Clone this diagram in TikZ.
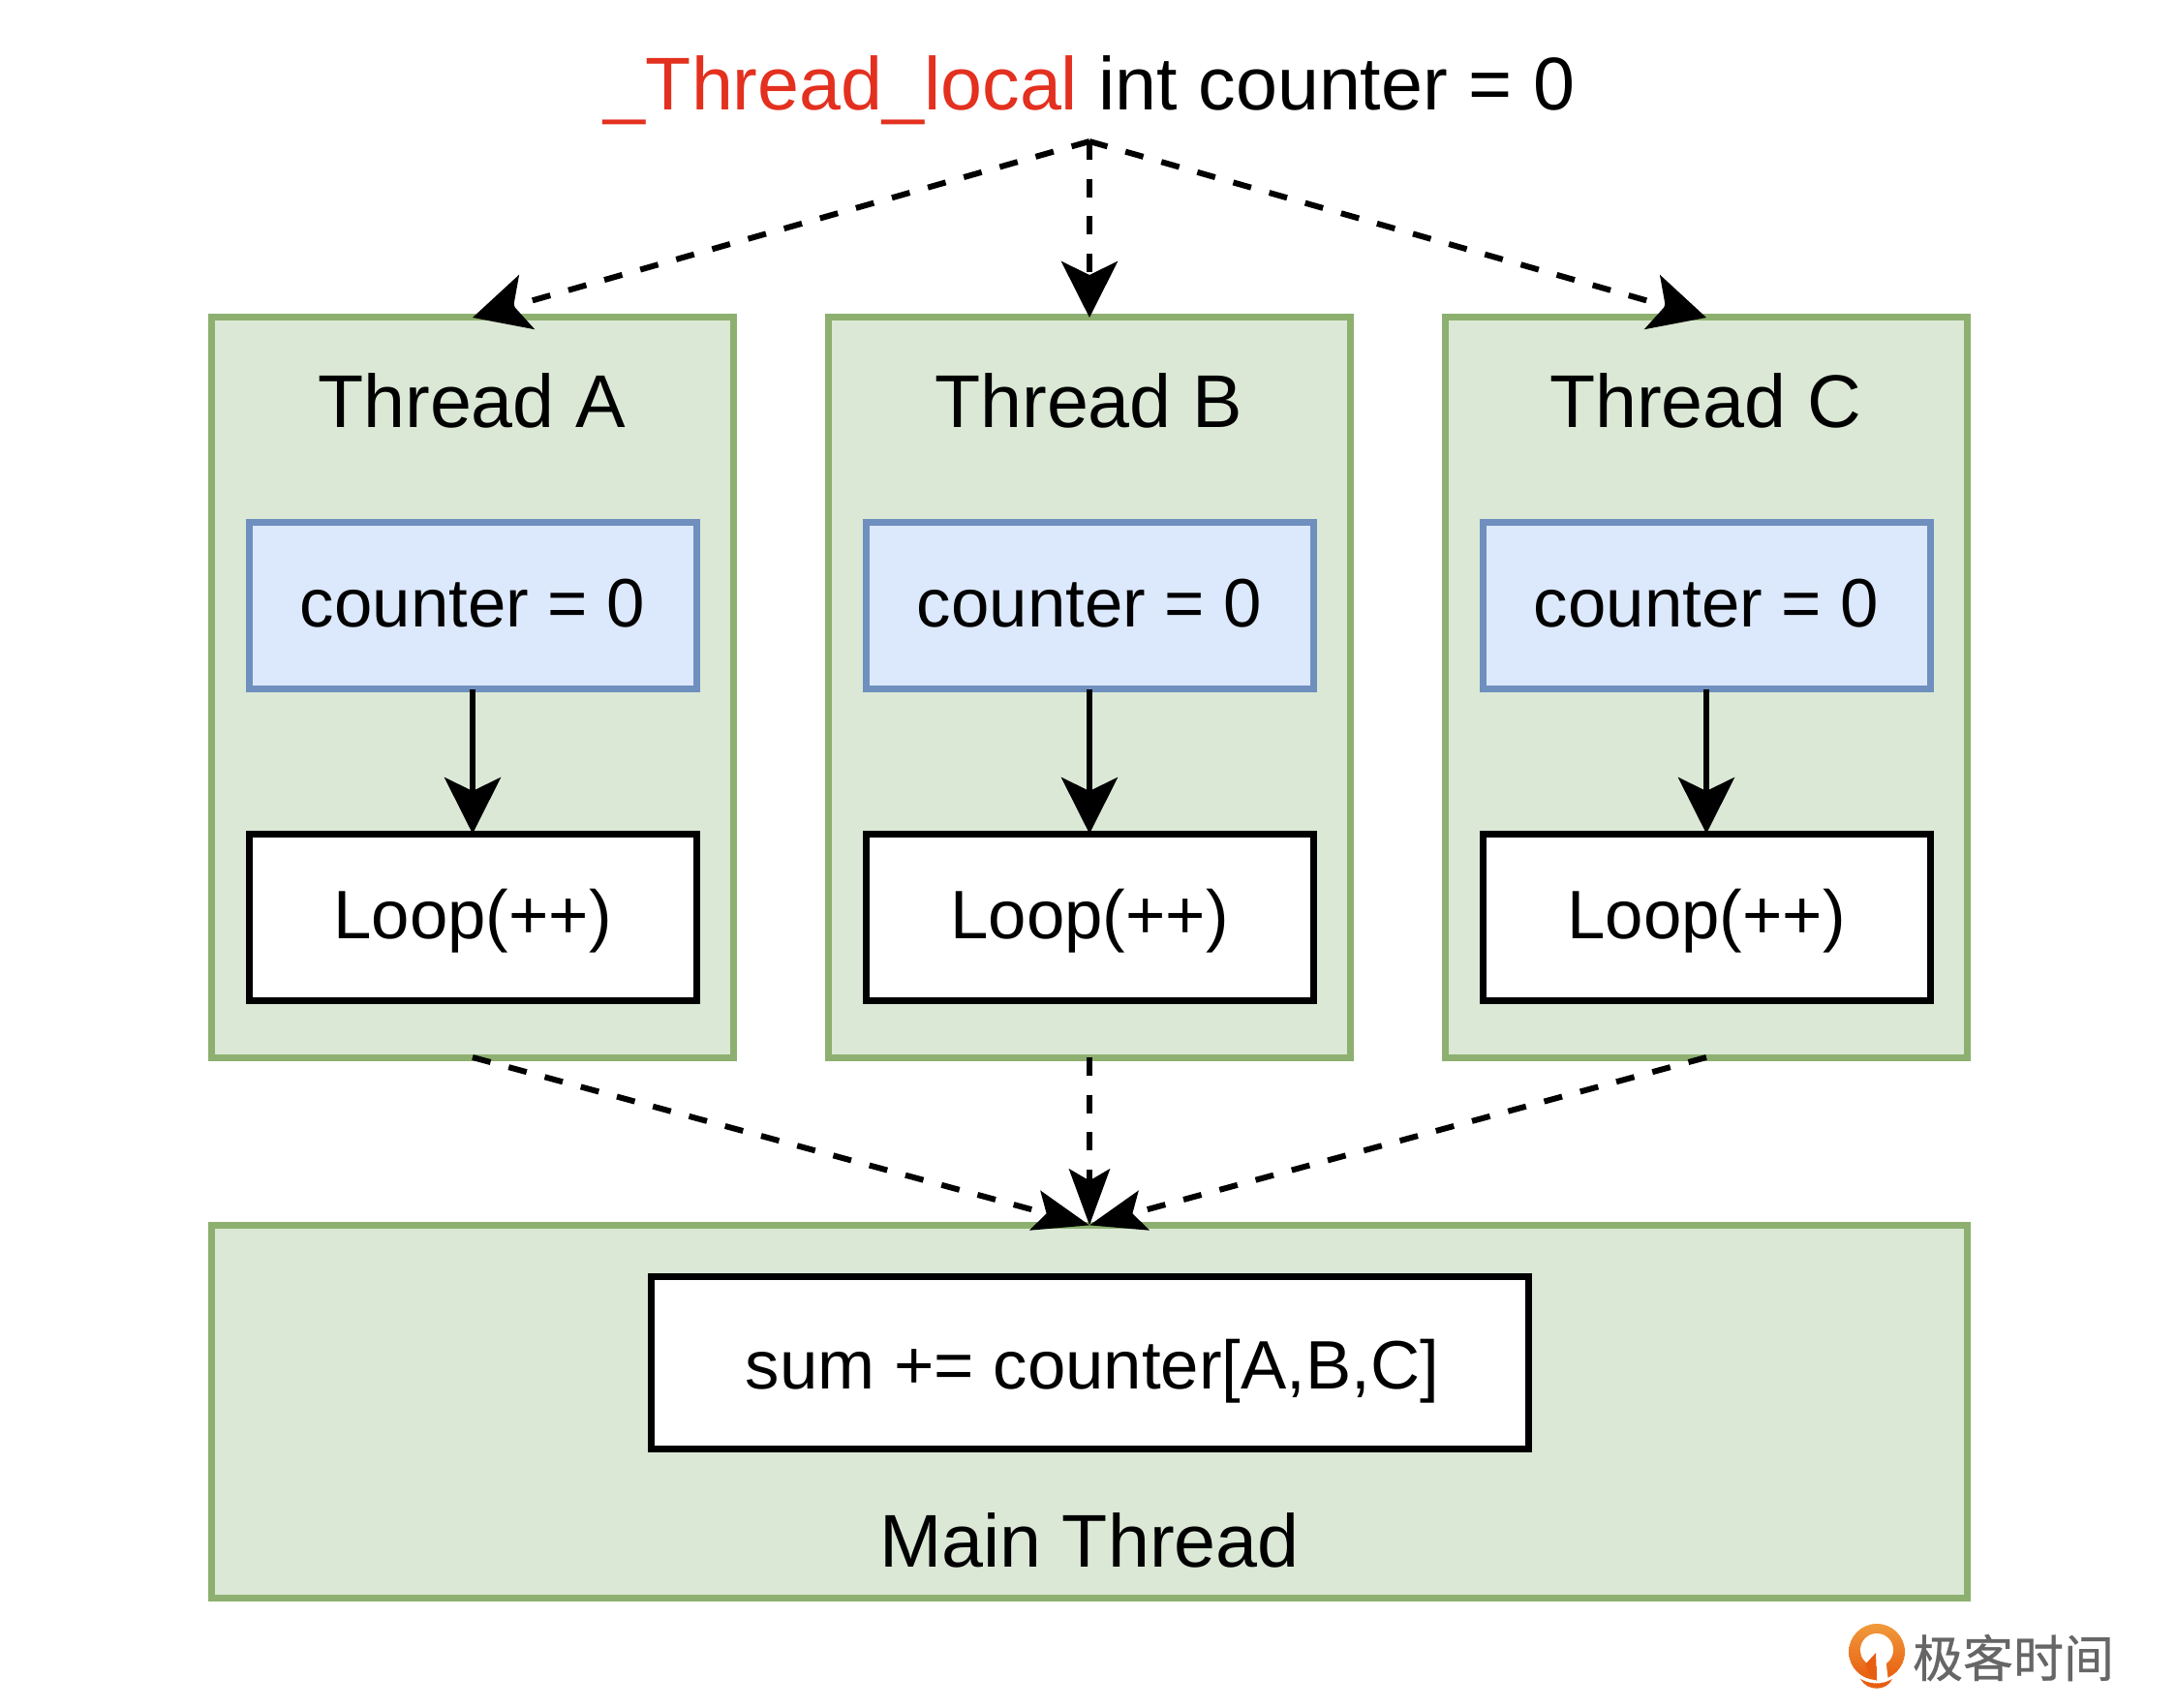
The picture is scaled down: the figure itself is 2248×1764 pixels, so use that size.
\documentclass[tikz,border=0pt]{standalone}
\usepackage{fontspec}
\setmainfont{Liberation Sans}
\newfontfamily\cjkfont[FakeBold=0.6]{Noto Sans CJK SC}
\usetikzlibrary{arrows.meta, positioning}
\definecolor{threadfill}{HTML}{DAE8D5}
\definecolor{threadline}{HTML}{8DB070}
\definecolor{varfill}{HTML}{DCE8FB}
\definecolor{varline}{HTML}{6F8FBF}
\definecolor{keyred}{HTML}{E3301F}
\definecolor{logogrey}{HTML}{666666}
\definecolor{logotop}{HTML}{F09A3C}
\definecolor{logolow}{HTML}{E85E10}

\begin{document}
\begin{tikzpicture}[
  x=0.5pt,
  y=-0.5pt,
  font=\fontsize{35.4}{40}\selectfont,
  thread/.style={draw=threadline, fill=threadfill, line width=3.5pt, outer sep=0pt, minimum width=269.5pt, minimum height=382pt},
  mainbox/.style={draw=threadline, fill=threadfill, line width=3.5pt, outer sep=0pt, minimum width=906.4pt, minimum height=192.6pt},
  var/.style={draw=varline, fill=varfill, line width=3.5pt, outer sep=0pt, minimum width=231pt, minimum height=86pt},
  loopbox/.style={draw, fill=white, line width=3.5pt, outer sep=0pt, minimum width=231pt, minimum height=86pt},
  title/.style={font=\fontsize{38.6}{44}\selectfont},
  arr/.style={-{Stealth[length=29pt, width=29pt, inset=7pt]}, line width=3pt},
  dasharr/.style={arr, dash pattern=on 9.6pt off 9.7pt},
  mergearr/.style={-{Stealth[length=29pt, width=21pt, inset=6pt]}, line width=3pt, dash pattern=on 9.6pt off 9.7pt}
]
\useasboundingbox (0,0) rectangle (2248,1764);

\node[title] (decl) at (1125,93) {\textcolor{keyred}{\_Thread\_local} int counter = 0};
\coordinate (fork) at (1125,146);

\node[thread] (ta) at (488,710) {};
\node[thread] (tb) at (1125,710) {};
\node[thread] (tc) at (1762,710) {};
\node[title] (na) at (487,414) {Thread A};
\node[title] (nb) at (1124,414) {Thread B};
\node[title] (nc) at (1761,414) {Thread C};

\node[var] (ca) at (488,626) {\raisebox{2.9pt}{counter = 0}};
\node[var] (cb) at (1125,626) {\raisebox{2.9pt}{counter = 0}};
\node[var] (cc) at (1762,626) {\raisebox{2.9pt}{counter = 0}};
\node[loopbox] (la) at (488,947) {\raisebox{-11.35pt}[0pt][0pt]{Loop(++)}};
\node[loopbox] (lb) at (1125,947) {\raisebox{-11.35pt}[0pt][0pt]{Loop(++)}};
\node[loopbox] (lc) at (1762,947) {\raisebox{-11.35pt}[0pt][0pt]{Loop(++)}};

\node[mainbox] (mt) at (1125,1458) {};
\node[loopbox, minimum width=453pt, minimum height=89pt] (sum) at (1125,1407) {\hspace{3pt}\raisebox{-13.5pt}[0pt][0pt]{sum += counter[A,B,C]}};
\node[title] (nm) at (1125,1591) {Main Thread};

\draw[dasharr] (fork) -- (ta.north);
\draw[dasharr] (fork) -- (tb.north);
\draw[dasharr] (fork) -- (tc.north);
\draw[arr] (ca) -- (la);
\draw[arr] (cb) -- (lb);
\draw[arr] (cc) -- (lc);
\draw[mergearr] (ta.south) -- (mt.north);
\draw[mergearr] (tc.south) -- (mt.north);
\draw[mergearr] (tb.south) -- (mt.north);

% logo
\path[top color=logotop, bottom color=logolow] (1938,1706) circle (29);
\fill[white] (1938,1704) circle (17);
\fill[white] (1938,1708) -- (1946,1704) -- (1950,1737) -- (1938,1737) -- cycle;
\fill[logolow] (1937,1707) -- (1926,1719) -- (1930,1729) -- (1938,1736) -- cycle;
\fill[logolow] (1921,1734) .. controls (1932,1740) and (1944,1740) .. (1954,1734) .. controls (1948,1747) and (1928,1747) .. (1921,1734) -- cycle;
\node[text=logogrey, font=\cjkfont\fontsize{26}{28}\selectfont, inner sep=0pt] (brand) at (2079,1712) {极客时间};
\end{tikzpicture}
\end{document}
